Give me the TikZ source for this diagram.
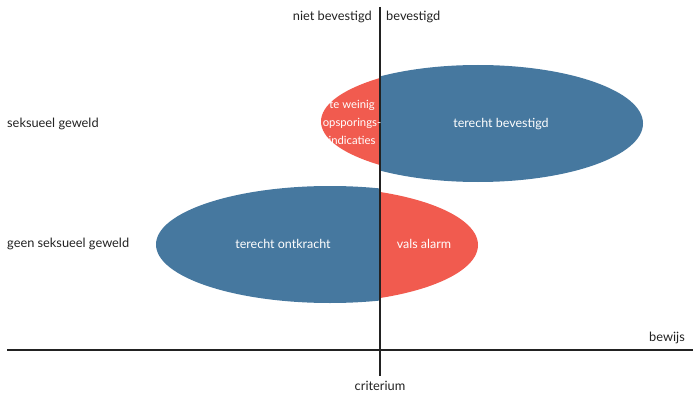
\documentclass[tikz,border=0pt]{standalone}
\usepackage{fontspec}
\setmainfont{Lato}
\definecolor{cblue}{HTML}{46789F}
\definecolor{cred}{HTML}{F15B4F}
\definecolor{cline}{HTML}{222222}
\begin{document}
\begin{tikzpicture}[x=1pt,y=-1pt,
  lbl/.style={font=\fontsize{12.8}{15}\selectfont, text=cline, inner sep=0pt},
  inlbl/.style={font=\fontsize{12.5}{18}\selectfont, text=white, inner sep=0pt, align=center},
  axis/.style={draw=cline, line width=1.1pt}]
\useasboundingbox (0,0) rectangle (693,393);
% top row
\begin{scope}
  \clip (0,0) rectangle (380,393);
  \fill[cred] (495,121.5) ellipse [x radius=174, y radius=58];
\end{scope}
\begin{scope}
  \clip (380,0) rectangle (693,393);
  \fill[cblue] (478,123.5) ellipse [x radius=165, y radius=58.5];
\end{scope}
% bottom row
\begin{scope}
  \clip (0,0) rectangle (380,393);
  \fill[cblue] (330,244.5) ellipse [x radius=174, y radius=58.5];
\end{scope}
\begin{scope}
  \clip (380,0) rectangle (693,393);
  \fill[cred] (313,245) ellipse [x radius=165, y radius=58];
\end{scope}
% axes
\coordinate (vtop) at (380,7);
\coordinate (vbot) at (380,376);
\coordinate (hl) at (7,350);
\coordinate (hr) at (693,350);
\draw[axis] (vtop) -- (vbot);
\draw[axis] (hl) -- (hr);
% labels
\node[lbl, anchor=east] (nb) at (372,17) {niet bevestigd};
\node[lbl, anchor=west] (b) at (386,17) {bevestigd};
\node[lbl, anchor=west] (sg) at (7,124) {seksueel geweld};
\node[lbl, anchor=west] (gsg) at (7,244) {geen seksueel geweld};
\node[lbl, anchor=east] (bew) at (685,338) {bewijs};
\node[lbl] (crit) at (380,386) {criterium};
\node[inlbl, font=\fontsize{11.3}{18}\selectfont] (tw) at (352,122) {te weinig\\opsporings-\\indicaties};
\node[inlbl] (tb) at (501,124) {terecht bevestigd};
\node[inlbl] (to) at (283,244) {terecht ontkracht};
\node[inlbl] (va) at (424,244) {vals alarm};
\end{tikzpicture}
\end{document}
